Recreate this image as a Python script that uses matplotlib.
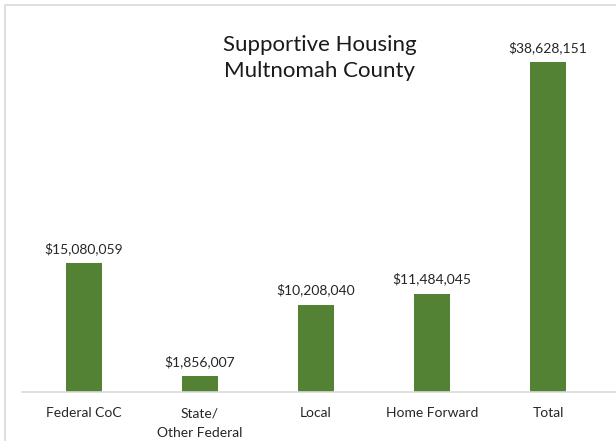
import matplotlib.pyplot as plt
from matplotlib.patches import Rectangle

categories = ['Federal CoC', 'State/\nOther Federal', 'Local', 'Home Forward', 'Total']
amounts = [15080059, 1856007, 10208040, 11484045, 38628151]
labels = ['$15,080,059', '$1,856,007', '$10,208,040', '$11,484,045', '$38,628,151']

plt.rcParams['font.family'] = ['Lato', 'DejaVu Sans']

W, H = 616, 441
fig = plt.figure(figsize=(W / 100, H / 100), dpi=100)

# chart border (top-left only visible, rest runs off the image)
fig.patches.append(Rectangle((5 / W, -0.1), 1.1, (H - 5) / H + 0.1, transform=fig.transFigure,
                             fill=False, edgecolor='#d9d9d9', linewidth=1.2))

ax = fig.add_axes([22 / W, 49 / H, (W - 22) / W, 372 / H])
x = list(range(len(categories)))
ax.bar(x, amounts, width=0.31, color='#548235')

px_val = 38628151 / 330
ax.set_ylim(0, 372 * px_val)
ax.set_xlim(-0.5 - 4 / 116, 4 + 68 / 116)

for xi, v, lab in zip(x, amounts, labels):
    ax.annotate(lab, (xi, v), xytext=(0, 6), textcoords='offset points',
                ha='center', va='bottom', fontsize=10, color='#262626')

ax.set_xticks(x)
ax.set_xticklabels(categories, fontsize=10, color='#262626', va='top', linespacing=1.75)
ax.tick_params(axis='x', length=0, pad=11)
ax.set_yticks([])
for s in ['top', 'right', 'left']:
    ax.spines[s].set_visible(False)
ax.spines['bottom'].set_color('#d9d9d9')
ax.spines['bottom'].set_linewidth(1.2)

fig.text(320 / W, 1 - 58 / H, 'Supportive Housing\nMultnomah County', ha='center', va='center',
         fontsize=16, color='#1a1a1a', linespacing=1.42)

fig.savefig('out.png', dpi=100)
